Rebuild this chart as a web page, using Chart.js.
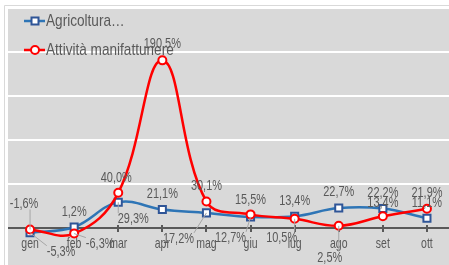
<!DOCTYPE html>
<html>
<head>
<meta charset="utf-8">
<script src="https://cdn.jsdelivr.net/npm/chart.js@4.4.1/dist/chart.umd.min.js"></script>
<style>
  html, body { margin: 0; padding: 0; background: #fff; overflow: hidden; }
</style>
</head>
<body>
<canvas id="chart" width="449" height="265"></canvas>
<script>
const mesi = ['gen', 'feb', 'mar', 'apr', 'mag', 'giu', 'lug', 'ago', 'set', 'ott'];
const agricoltura = [-5.3, 1.2, 29.3, 21.1, 17.2, 12.7, 13.4, 22.7, 22.2, 11.1];
const manifatturiere = [-1.6, -6.3, 40.0, 190.5, 30.1, 15.5, 10.5, 2.5, 13.4, 21.9];
const gridTicks = [0, 50, 100, 150, 200, 250];

// where each data label sits relative to its point (px), as moved by hand in the original
const offAgr = [[31, 19], [0, -15], [15, 17], [0, -16], [-28, 26], [-20, 21], [0, -15], [0, -16], [0, -16], [0, -15]];
const offMan = [[-6, -26], [26, 10], [-2, -15], [0, -17], [0, -16], [0, -15], [-13, 19], [-9, 32], [0, -13], [0, -16]];

const GRAY_TXT = '#595959';
const FONT = '"Liberation Sans", Arial, sans-serif';

function squeezedText(ctx, txt, x, y, sx) {
  ctx.save();
  ctx.translate(x, y);
  ctx.scale(sx, 1);
  ctx.fillText(txt, 0, 0);
  ctx.restore();
}

function fmt(v) {
  return v.toFixed(1).replace('.', ',') + '%';
}

// zero line and category tick marks, under the series
const zeroLine = {
  id: 'zeroLine',
  beforeDatasetsDraw(chart) {
    const ctx = chart.ctx, a = chart.chartArea, x = chart.scales.x;
    const y0 = Math.round(chart.scales.y.getPixelForValue(0));
    ctx.save();
    ctx.strokeStyle = GRAY_TXT;
    ctx.lineWidth = 2;
    ctx.beginPath();
    ctx.moveTo(a.left, y0);
    ctx.lineTo(a.right, y0);
    ctx.stroke();
    mesi.forEach((m, i) => {
      const px = Math.round(x.getPixelForValue(i));
      ctx.beginPath();
      ctx.moveTo(px, y0 - 3);
      ctx.lineTo(px, y0 + 4);
      ctx.stroke();
    });
    ctx.fillStyle = GRAY_TXT;
    ctx.font = '15px ' + FONT;
    ctx.textAlign = 'center';
    ctx.textBaseline = 'alphabetic';
    mesi.forEach((m, i) => {
      squeezedText(ctx, m, x.getPixelForValue(i), y0 + 20, 0.7);
    });
    ctx.restore();
  }
};

const decor = {
  id: 'decor',
  beforeDraw(chart) {
    const ctx = chart.ctx, a = chart.chartArea;
    ctx.save();
    ctx.fillStyle = '#fff';
    ctx.fillRect(0, 0, chart.width, chart.height);
    ctx.strokeStyle = '#d9d9d9';
    ctx.lineWidth = 1;
    ctx.beginPath();
    ctx.moveTo(4.5, chart.height);
    ctx.lineTo(4.5, 5.5);
    ctx.lineTo(chart.width, 5.5);
    ctx.stroke();
    ctx.fillStyle = '#d9d9d9';
    ctx.fillRect(a.left, a.top, a.right - a.left, a.bottom - a.top);
    ctx.restore();
  },
  afterDatasetsDraw(chart) {
    const ctx = chart.ctx, x = chart.scales.x, y = chart.scales.y;
    ctx.save();
    ctx.font = '15px ' + FONT;
    ctx.textAlign = 'center';
    ctx.textBaseline = 'middle';
    const sets = [[agricoltura, offAgr], [manifatturiere, offMan]];
    sets.forEach(([vals, offs]) => {
      vals.forEach((v, i) => {
        const px = x.getPixelForValue(i), py = y.getPixelForValue(v);
        const lx = px + offs[i][0], ly = py + offs[i][1];
        const txt = fmt(v);
        const w = ctx.measureText(txt).width * 0.73;
        if (Math.abs(offs[i][0]) > 8 || Math.abs(offs[i][1]) > 20) {
          const ex = Math.min(Math.max(px, lx - w / 2), lx + w / 2);
          const ey = Math.min(Math.max(py, ly - 6), ly + 6);
          ctx.strokeStyle = '#a6a6a6';
          ctx.lineWidth = 1;
          ctx.beginPath();
          ctx.moveTo(ex, ey);
          ctx.lineTo(px, py);
          ctx.stroke();
        }
        ctx.fillStyle = GRAY_TXT;
        squeezedText(ctx, txt, lx, ly, 0.73);
      });
    });

    // legend, top left inside the plot
    const rows = [21, 50];
    chart.data.datasets.forEach((d, k) => {
      const cy = rows[k];
      ctx.strokeStyle = d.borderColor;
      ctx.lineWidth = 2.5;
      ctx.beginPath();
      ctx.moveTo(24, cy);
      ctx.lineTo(45, cy);
      ctx.stroke();
      ctx.fillStyle = '#fff';
      ctx.strokeStyle = d.pointBorderColor;
      ctx.lineWidth = 2;
      ctx.beginPath();
      if (d.pointStyle === 'rect') {
        ctx.rect(31.5, cy - 3.5, 7, 7);
      } else {
        ctx.arc(35, cy, 4, 0, Math.PI * 2);
      }
      ctx.fill();
      ctx.stroke();
      ctx.fillStyle = GRAY_TXT;
      ctx.font = '17px ' + FONT;
      ctx.textAlign = 'left';
      squeezedText(ctx, d.label, 46, cy, 0.8);
    });
    ctx.restore();
  }
};

new Chart(document.getElementById('chart'), {
  type: 'line',
  data: {
    labels: mesi,
    datasets: [
      {
        label: 'Agricoltura…',
        data: agricoltura,
        borderColor: '#2e75b6',
        borderWidth: 2.5,
        tension: 0.4,
        pointStyle: 'rect',
        pointRadius: 5,
        pointBorderColor: '#2f5597',
        pointBackgroundColor: '#fff',
        pointBorderWidth: 2,
        order: 1
      },
      {
        label: 'Attività manifatturiere',
        data: manifatturiere,
        borderColor: '#ff0000',
        borderWidth: 2.5,
        tension: 0.4,
        pointStyle: 'circle',
        pointRadius: 4,
        pointBorderColor: '#ff0000',
        pointBackgroundColor: '#fff',
        pointBorderWidth: 2,
        order: 0
      }
    ]
  },
  options: {
    responsive: false,
    animation: false,
    devicePixelRatio: 1,
    layout: { autoPadding: false, padding: { left: 8, top: 8, right: 0, bottom: 0 } },
    plugins: {
      legend: { display: false },
      tooltip: { enabled: false }
    },
    scales: {
      x: {
        display: false,
        offset: true
      },
      y: {
        min: -42,
        max: 250,
        afterBuildTicks: (s) => { s.ticks = gridTicks.map(v => ({ value: v })); },
        ticks: { display: false },
        border: { display: false },
        grid: {
          drawTicks: false,
          lineWidth: 2,
          color: (c) => (c.tick && c.tick.value === 0 ? 'rgba(0,0,0,0)' : '#ffffff')
        }
      }
    }
  },
  plugins: [zeroLine, decor]
});
</script>
</body>
</html>
